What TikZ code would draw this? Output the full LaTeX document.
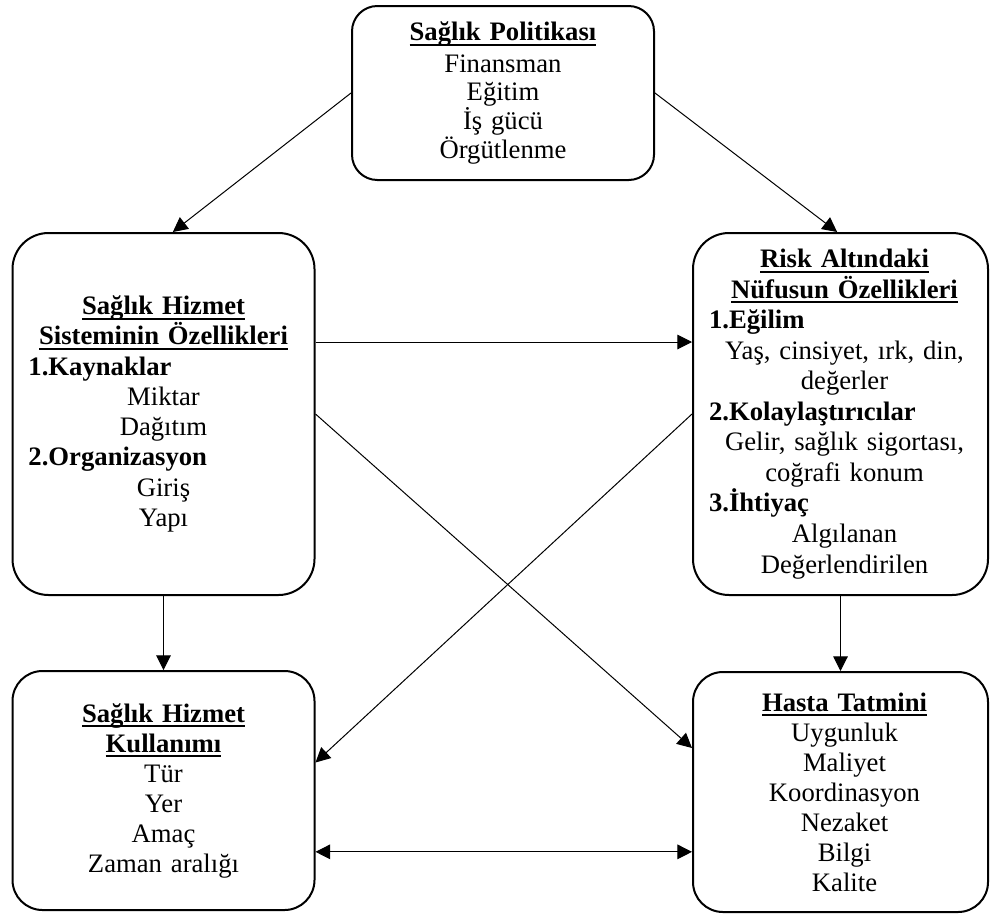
\documentclass[tikz,border=0pt]{standalone}
\usepackage{fontspec}
\setmainfont{Liberation Serif}
\usetikzlibrary{arrows.meta}
% underlined title text with a firm rule
\newcommand\undl[1]{\leavevmode\setbox0=\hbox{#1}\rlap{\vrule width\wd0 height -2.2pt depth 3.8pt}\box0}
\newcommand\ttl[1]{{\bfseries\undl{#1}}}
% left-aligned bold heading inside a centred box
\newcommand\hd[1]{\leavevmode\makebox[\hsize][l]{\bfseries #1}}
% a centred line set a little to the right
\newcommand\rl{\leavevmode\hspace*{6pt}}
\setlength{\parindent}{0pt}
\begin{document}
\begin{tikzpicture}[x=0.75pt,y=-0.75pt,
  box/.style={draw, line width=1.5pt, align=center, inner xsep=12pt, inner ysep=0pt,
              font=\fontsize{20}{22.5}\selectfont},
  link/.style={line width=0.75pt, -{Triangle[length=11pt,width=11pt]}},
  both/.style={line width=0.75pt, {Triangle[length=11pt,width=11pt]}-{Triangle[length=11pt,width=11pt]}}]
\useasboundingbox (0,0) rectangle (992,918);

\node[box, rounded corners=19pt, text width=202.5pt, minimum height=130.5pt,
      font=\fontsize{20}{21.5}\selectfont] (pol) at (503,93)
  {\ttl{Sağlık Politikası}\\[2pt] Finansman\\ Eğitim\\ İş gücü\\ Örgütlenme};

\node[box, rounded corners=27pt, text width=202.5pt, minimum height=271.5pt,
      font=\fontsize{20}{22.7}\selectfont] (hs) at (163.5,414)
  {\ttl{Sağlık Hizmet}\\ \ttl{Sisteminin Özellikleri}\\ \hd{1.Kaynaklar}\\ Miktar\\ Dağıtım\\
   \hd{2.Organizasyon}\\ Giriş\\ Yapı};

\node[box, rounded corners=27pt, text width=197.25pt, minimum height=271.5pt,
      font=\fontsize{20}{22.9}\selectfont] (rp) at (840.5,414)
  {\rl\ttl{Risk Altındaki}\\ \rl\ttl{Nüfusun Özellikleri}\\ \hd{1.Eğilim}\\ \rl Yaş, cinsiyet, ırk, din,\\ \rl değerler\\
   \hd{2.Kolaylaştırıcılar}\\ \rl Gelir, sağlık sigortası,\\ \rl coğrafi konum\\ \hd{3.İhtiyaç}\\ \rl Algılanan\\ \rl Değerlendirilen};

\node[box, rounded corners=22.5pt, text width=202.5pt, minimum height=179.25pt] (use) at (163.5,790.5)
  {\ttl{Sağlık Hizmet}\\ \ttl{Kullanımı}\\ Tür\\ Yer\\ Amaç\\ Zaman aralığı};

\node[box, rounded corners=22.5pt, text width=197.25pt, minimum height=180pt] (sat) at (840.5,792)
  {\rl\ttl{Hasta Tatmini}\\ \rl Uygunluk\\ \rl Maliyet\\ \rl Koordinasyon\\ \rl Nezaket\\ \rl Bilgi\\ \rl Kalite};

\draw[link] (pol.west) -- ([xshift=7pt]hs.north);
\draw[link] (pol.east) -- ([xshift=-2.5pt]rp.north);
\draw[link] ([yshift=54pt]hs.east) -- ([yshift=54pt]rp.west);
\draw[link] (hs.east) -- ([yshift=33pt]sat.west);
\draw[link] (rp.west) -- ([yshift=21pt]use.east);
\draw[link] (hs.south) -- (use.north);
\draw[link] (rp.south) -- (sat.north);
\coordinate (dl) at ([yshift=-46pt]use.east);
\draw[both] (dl) -- (dl -| sat.west);
\end{tikzpicture}
\end{document}
